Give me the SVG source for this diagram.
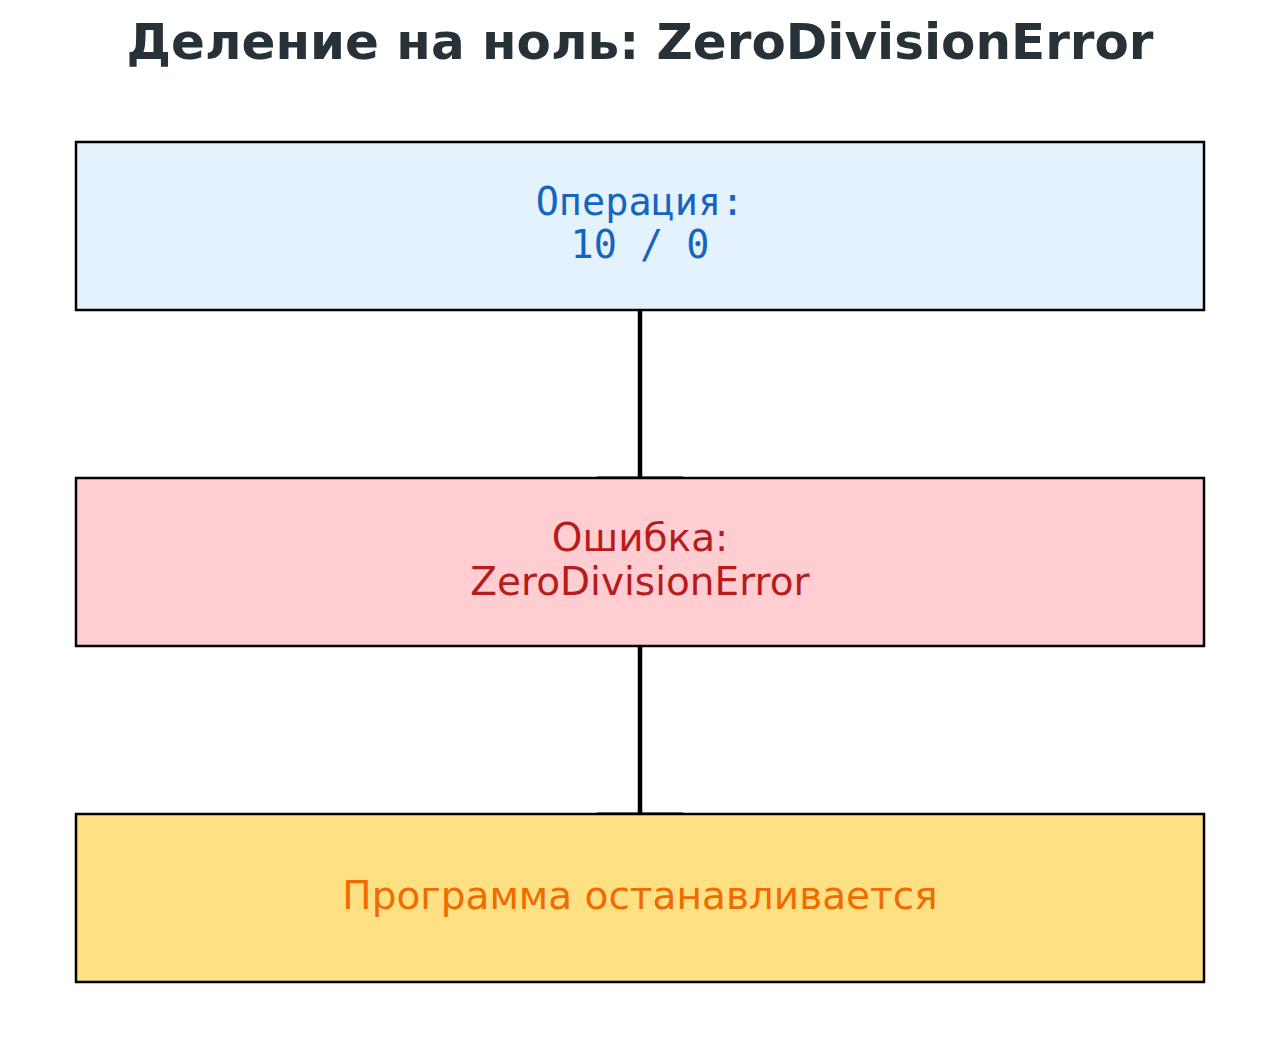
<svg xmlns="http://www.w3.org/2000/svg" width="1280" height="1044" viewBox="0 0 1280 1044">
<style>
.box{stroke:#000;stroke-width:2.5}
.t{text-anchor:middle}
.sans{font-family:"DejaVu Sans",sans-serif;font-size:39px}
.mono{font-family:"DejaVu Sans Mono",monospace;font-size:38.5px}
</style>
<rect width="1280" height="1044" fill="#fff"/>
<text x="640" y="59" class="t" font-family="DejaVu Sans, sans-serif" font-weight="bold" font-size="50" fill="#263238">Деление на ноль: ZeroDivisionError</text>
<g id="connectors" stroke="#000">
<line x1="640" y1="310" x2="640" y2="478" stroke-width="4.5"/>
<line x1="597" y1="478" x2="683" y2="478" stroke-width="3"/>
<line x1="640" y1="646" x2="640" y2="814" stroke-width="4.5"/>
<line x1="597" y1="814" x2="683" y2="814" stroke-width="3"/>
</g>
<g id="node-op">
<rect class="box" x="76" y="142" width="1128" height="168" fill="#E3F2FD"/>
<text class="t mono" fill="#1565C0"><tspan x="640" y="215">Операция:</tspan><tspan x="640" y="258">10 / 0</tspan></text>
</g>
<g id="node-err">
<rect class="box" x="76" y="478" width="1128" height="168" fill="#FFCDD2"/>
<text class="t sans" fill="#B71C1C"><tspan x="640" y="551">Ошибка:</tspan><tspan x="640" y="595">ZeroDivisionError</tspan></text>
</g>
<g id="node-stop">
<rect class="box" x="76" y="814" width="1128" height="168" fill="#FFE082"/>
<text x="640" y="909" class="t sans" fill="#EF6C00">Программа останавливается</text>
</g>
</svg>
